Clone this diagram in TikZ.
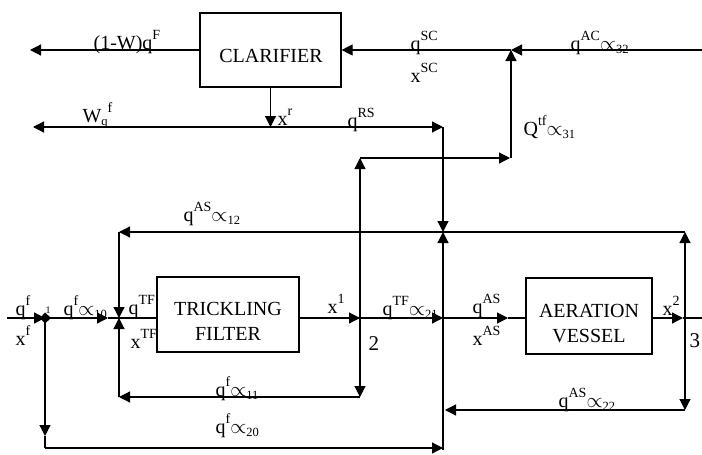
\documentclass[tikz,border=0pt]{standalone}
\usepackage{fontspec}
\setmainfont{Liberation Serif}
\usetikzlibrary{arrows.meta}
\newcommand{\mysup}[1]{\raisebox{9.5pt}{\fontsize{14}{14}\selectfont #1}}
\newcommand{\mysub}[1]{\raisebox{-3pt}{\fontsize{12.5}{13}\selectfont #1}}
\newcommand{\prop}{\raisebox{0pt}{$\propto$}}
\begin{document}
\begin{tikzpicture}[x=1pt,y=-1pt,
  line width=1.2pt,
  >={Triangle[length=11pt,width=11pt]},
  box/.style={draw, line width=1.2pt, rectangle, inner sep=0pt},
  btext/.style={anchor=base, inner sep=0pt, font=\fontsize{20}{24}\selectfont},
  lbl/.style={anchor=base west, inner sep=0pt, font=\fontsize{20}{24}\selectfont},
  numlbl/.style={anchor=base west, inner sep=0pt, font=\fontsize{21}{24}\selectfont},
  smalllbl/.style={anchor=base west, inner sep=0pt, font=\fontsize{10}{12}\selectfont}
]
\fill[white] (0,0) rectangle (702,455);
\useasboundingbox (0,0) rectangle (702,455);

% boxes
\node[box, minimum width=141pt, minimum height=74pt] (clar) at (270.5,50) {};
\node[box, minimum width=142pt, minimum height=75pt] (tf) at (228,314.5) {};
\node[box, minimum width=126pt, minimum height=76pt] (av) at (589,316) {};
\node[btext] (clarT) at (271,62) {CLARIFIER};
\node[btext] (tfT1) at (228,315) {TRICKLING};
\node[btext] (tfT2) at (228,340) {FILTER};
\node[btext] (avT1) at (589,317) {AERATION};
\node[btext] (avT2) at (589,342) {VESSEL};

% coordinates
\coordinate (tl) at (30,50);
\coordinate (tr) at (702,50);
\coordinate (j32) at (511,50);
\coordinate (xr) at (270.5,127);
\coordinate (wl) at (33,127);
\coordinate (rs) at (443,127);
\coordinate (mix12) at (443,232);
\coordinate (n3top) at (685,232);
\coordinate (l12) at (119,232);
\coordinate (in) at (7,318);
\coordinate (n1) at (45,318);
\coordinate (a10) at (108,318);
\coordinate (tfin) at (119,318);
\coordinate (n2) at (360,318);
\coordinate (mix) at (443,318);
\coordinate (aAS) at (508,318);
\coordinate (a2) at (683,318);
\coordinate (n3) at (685,318);
\coordinate (rend) at (702,318);
\coordinate (n2up) at (360,158);
\coordinate (q31) at (510,158);
\coordinate (q31b) at (511,158);
\coordinate (n2dn) at (360,397);
\coordinate (l11) at (119,397);
\coordinate (n1dn) at (45,436);
\coordinate (n1b) at (45,448);
\coordinate (mixb) at (443,448);
\coordinate (mixbot) at (443,450);
\coordinate (n3dn) at (685,410);
\coordinate (l22) at (445,410);

% top
\draw[->] (clar.west) -- (tl);
\draw[->] (tr) -- (j32);
\draw[->] (j32) -- (clar.east);
\draw[->] (clar.south) -- (xr);
\draw[->] (xr) -- (wl);
\draw[->] (xr) -- (rs);
\draw[->] (rs) -- (mix12);
% recycle line 12
\draw[->] (n3) -- (n3top);
\draw[->] (n3top) -- (l12);
\draw[->] (l12) -- (tfin);
\draw[->] (mixbot) -- (mix12);
% main line
\draw[->] (in) -- (n1);
\fill (n1) ++(-5,0) -- ++(5,-5.5) -- ++(6,5.5) -- ++(-6,5.5) -- cycle;
\draw[->] (n1) -- (a10);
\draw (a10) -- (tfin) -- (tf.west |- tfin);
\draw[->] (tf.east |- n2) -- (n2);
\draw[->] (n2) -- (mix);
\draw[->] (mix) -- (aAS);
\draw (aAS) -- (av.west |- aAS);
\draw[->] (av.east |- a2) -- (a2);
\draw (a2) -- (rend);
% node 2 branches
\draw[->] (n2) -- (n2up);
\draw[->] (n2up) -- (q31);
\draw[->] (q31b) -- (j32);
\draw[->] (n2) -- (n2dn);
\draw[->] (n2dn) -- (l11);
\draw[->] (l11) -- (tfin);
% node 1 bypass
\draw[->] (n1) -- (n1dn);
\draw (n1dn) -- (n1b);
\draw[->] (n1b) -- (mixb);
% node 3 return
\draw[->] (n3) -- (n3dn);
\draw[->] (n3dn) -- (l22);

% labels
\node[lbl] (L1) at (93,49) {(1-W)q\mysup{F}};
\node[lbl] (L2) at (410,50) {q\mysup{SC}};
\node[lbl] (L3) at (410,82) {x\mysup{SC}};
\node[lbl] (L4) at (570,50) {q\mysup{AC}\prop\mysub{32}};
\node[lbl] (L5) at (82,122) {W\mysub{q}\mysup{f}};
\node[lbl] (L6) at (277,125) {x\mysup{r}};
\node[lbl] (L7) at (347,127) {q\mysup{RS}};
\node[lbl] (L8) at (523,135) {Q\mysup{tf}\prop\mysub{31}};
\node[lbl] (L9) at (183,221) {q\mysup{AS}\prop\mysub{12}};
\node[lbl] (L10) at (15,315) {q\mysup{f}};
\node[lbl] (L11) at (15,345) {x\mysup{f}};
\node[smalllbl] (L12) at (45,313) {1};
\node[lbl] (L13) at (63,315) {q\mysup{f}\prop\mysub{10}};
\node[lbl] (L14) at (128,314) {q\mysup{TF}};
\node[lbl] (L15) at (130,348) {x\mysup{TF}};
\node[lbl] (L16) at (327,313) {x\mysup{1}};
\node[numlbl] (L17) at (368,350) {2};
\node[lbl] (L18) at (382,315) {q\mysup{TF}\prop\mysub{21}};
\node[lbl] (L19) at (472,313) {q\mysup{AS}};
\node[lbl] (L20) at (472,345) {x\mysup{AS}};
\node[lbl] (L21) at (662,315) {x\mysup{2}};
\node[numlbl] (L22) at (689,347) {3};
\node[lbl] (L23) at (215,396) {q\mysup{f}\prop\mysub{11}};
\node[lbl] (L24) at (215,433) {q\mysup{f}\prop\mysub{20}};
\node[lbl] (L25) at (558,407) {q\mysup{AS}\prop\mysub{22}};
\end{tikzpicture}
\end{document}
